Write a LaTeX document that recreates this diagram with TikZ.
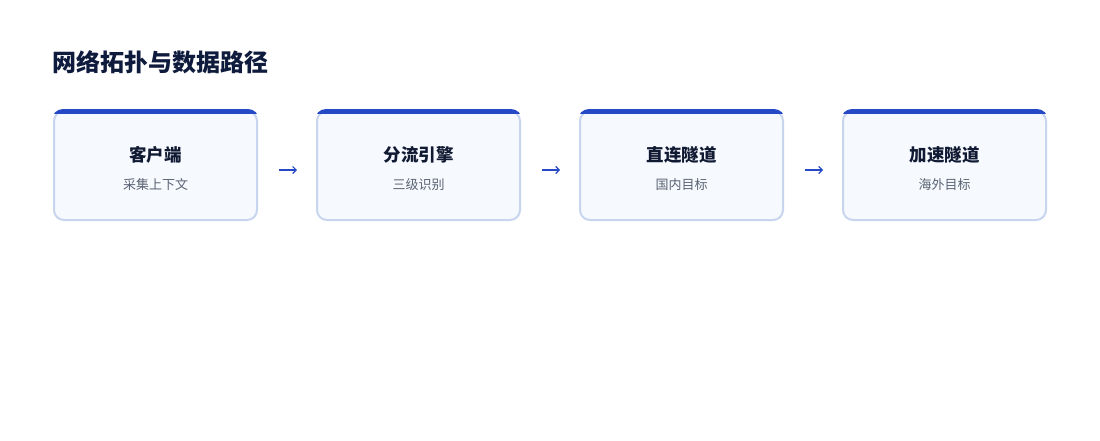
\documentclass[tikz,border=0pt]{standalone}
\usepackage{fontspec}
\setmainfont{Noto Sans CJK SC}
\usetikzlibrary{arrows.meta}
\definecolor{titlec}{HTML}{0F1B3D}
\definecolor{headc}{HTML}{111A33}
\definecolor{subc}{HTML}{5A6373}
\definecolor{bluec}{HTML}{2649C6}
\definecolor{borderc}{HTML}{C8D5EF}
\definecolor{fillc}{HTML}{F6F9FD}
\tikzset{
  stepbox/.style={draw=borderc, line width=2pt, fill=fillc, rounded corners=10pt,
    minimum width=203pt, minimum height=109pt, inner sep=0pt},
  headtext/.style={font=\bfseries\fontsize{17.5}{21}\selectfont, text=headc},
  subtext/.style={font=\fontsize{13}{15}\selectfont, text=subc},
  flowarrow/.style={draw=bluec, line width=1.2pt, -{Straight Barb[length=3.5pt,width=7pt]}}
}
\newcommand{\topband}[1]{%
  \begin{scope}
    \clip[rounded corners=11pt] ([shift={(-1,-1)}]#1.north west) rectangle ([shift={(1,1)}]#1.south east);
    \fill[bluec] ([shift={(-2,-2)}]#1.north west) rectangle ([shift={(2,4)}]#1.north east);
  \end{scope}}
\begin{document}
\begin{tikzpicture}[x=1pt,y=-1pt]
\useasboundingbox (0,0) rectangle (1100,440);
\fill[white] (0,0) rectangle (1100,440);
\node[anchor=west, inner sep=0pt, font=\bfseries\fontsize{24}{28}\selectfont, text=titlec] (title) at (52,62) {网络拓扑与数据路径};

\node[stepbox] (b1) at (155.5,165.5) {};
\node[stepbox] (b2) at (418.5,165.5) {};
\node[stepbox] (b3) at (681.5,165.5) {};
\node[stepbox] (b4) at (944.5,165.5) {};
\topband{b1}\topband{b2}\topband{b3}\topband{b4}

\node[headtext] (h1) at (155.5,155) {客户端};
\node[subtext] (s1) at (155.5,185) {采集上下文};
\node[headtext] (h2) at (418.5,155) {分流引擎};
\node[subtext] (s2) at (418.5,185) {三级识别};
\node[headtext] (h3) at (681.5,155) {直连隧道};
\node[subtext] (s3) at (681.5,185) {国内目标};
\node[headtext] (h4) at (944.5,155) {加速隧道};
\node[subtext] (s4) at (944.5,185) {海外目标};

\draw[flowarrow] ([shift={(21,4.5)}]b1.east) -- ([shift={(-19,4.5)}]b2.west);
\draw[flowarrow] ([shift={(21,4.5)}]b2.east) -- ([shift={(-19,4.5)}]b3.west);
\draw[flowarrow] ([shift={(21,4.5)}]b3.east) -- ([shift={(-19,4.5)}]b4.west);
\end{tikzpicture}
\end{document}
